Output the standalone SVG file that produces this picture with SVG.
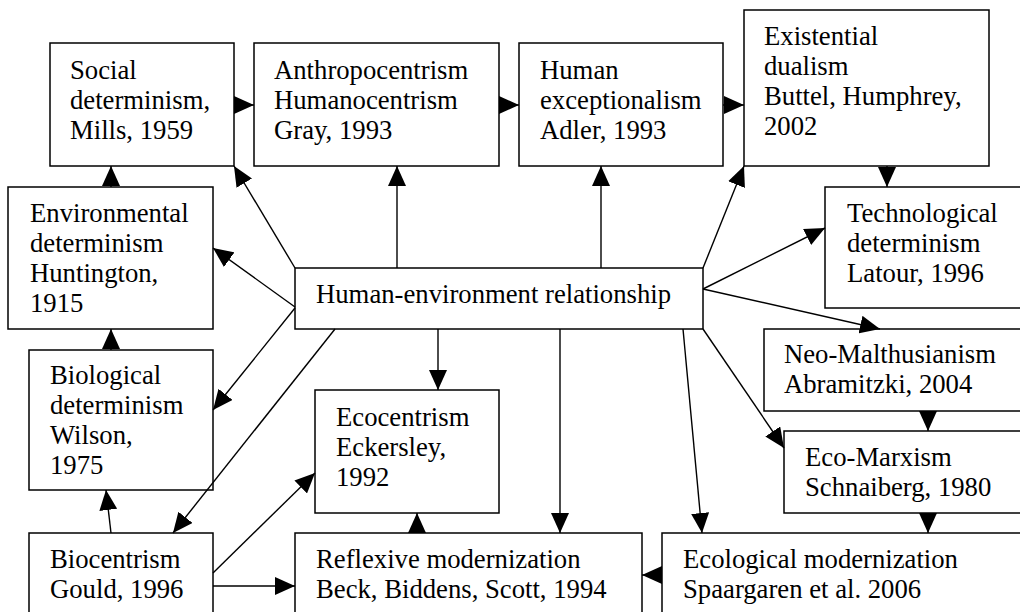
<svg xmlns="http://www.w3.org/2000/svg" width="1020" height="612" viewBox="0 0 1020 612">
<style>
.box{fill:#fff;stroke:#000;stroke-width:1.5}
.t{font-family:'Liberation Serif','DejaVu Serif',serif;font-size:26.7px;fill:#000}
.c line{stroke:#000;stroke-width:1.4;marker-end:url(#ah)}
</style>
<defs>
<marker id="ah" viewBox="0 0 20 18" refX="20" refY="9" markerWidth="20" markerHeight="18" markerUnits="userSpaceOnUse" orient="auto">
<path d="M0,0 L20,9 L0,18 z" fill="#000"/>
</marker>
</defs>
<rect width="1020" height="612" fill="#fff"/>
<g id="social"><rect class="box" x="50" y="43" width="184" height="123"/><text class="t" x="70" y="79">Social</text><text class="t" x="70" y="109">determinism,</text><text class="t" x="70" y="139">Mills, 1959</text></g>
<g id="anthro"><rect class="box" x="254" y="43" width="245" height="123"/><text class="t" x="274" y="79">Anthropocentrism</text><text class="t" x="274" y="109">Humanocentrism</text><text class="t" x="274" y="139">Gray, 1993</text></g>
<g id="human"><rect class="box" x="519" y="43" width="204" height="123"/><text class="t" x="540" y="79">Human</text><text class="t" x="540" y="109">exceptionalism</text><text class="t" x="540" y="139">Adler, 1993</text></g>
<g id="exist"><rect class="box" x="744" y="10" width="245" height="156"/><text class="t" x="764" y="45">Existential</text><text class="t" x="764" y="75">dualism</text><text class="t" x="764" y="105">Buttel, Humphrey,</text><text class="t" x="764" y="135">2002</text></g>
<g id="env"><rect class="box" x="8" y="187" width="205" height="142"/><text class="t" x="30" y="222">Environmental</text><text class="t" x="30" y="252">determinism</text><text class="t" x="30" y="282">Huntington,</text><text class="t" x="30" y="312">1915</text></g>
<g id="tech"><rect class="box" x="825" y="187" width="210" height="121"/><text class="t" x="847" y="222">Technological</text><text class="t" x="847" y="252">determinism</text><text class="t" x="847" y="282">Latour, 1996</text></g>
<g id="he"><rect class="box" x="295" y="268" width="408" height="61"/><text class="t" x="316" y="303">Human-environment relationship</text></g>
<g id="neo"><rect class="box" x="764" y="329" width="271" height="82"/><text class="t" x="784" y="363">Neo-Malthusianism</text><text class="t" x="784" y="393">Abramitzki, 2004</text></g>
<g id="bio"><rect class="box" x="29" y="350" width="184" height="140"/><text class="t" x="50" y="384">Biological</text><text class="t" x="50" y="414">determinism</text><text class="t" x="50" y="444">Wilson,</text><text class="t" x="50" y="474">1975</text></g>
<g id="ecocentrism"><rect class="box" x="315" y="390" width="184" height="123"/><text class="t" x="336" y="426">Ecocentrism</text><text class="t" x="336" y="456">Eckersley,</text><text class="t" x="336" y="486">1992</text></g>
<g id="ecomarx"><rect class="box" x="784" y="431" width="251" height="82"/><text class="t" x="805" y="466">Eco-Marxism</text><text class="t" x="805" y="496">Schnaiberg, 1980</text></g>
<g id="biocentrism"><rect class="box" x="29" y="533" width="184" height="90"/><text class="t" x="50" y="568">Biocentrism</text><text class="t" x="50" y="598">Gould, 1996</text></g>
<g id="reflexive"><rect class="box" x="295" y="533" width="347" height="90"/><text class="t" x="316" y="568">Reflexive modernization</text><text class="t" x="316" y="598">Beck, Biddens, Scott, 1994</text></g>
<g id="ecomod"><rect class="box" x="662" y="533" width="373" height="90"/><text class="t" x="683" y="568">Ecological modernization</text><text class="t" x="683" y="598">Spaargaren et al. 2006</text></g>
<g id="connectors" class="c">
<line x1="234" y1="105" x2="254" y2="105"/>
<line x1="499" y1="105" x2="519" y2="105"/>
<line x1="723" y1="105" x2="744" y2="105"/>
<line x1="111" y1="187" x2="111" y2="166"/>
<line x1="295" y1="268" x2="234" y2="166"/>
<line x1="397" y1="268" x2="397" y2="166"/>
<line x1="601" y1="268" x2="601" y2="166"/>
<line x1="703" y1="268" x2="744" y2="166"/>
<line x1="887" y1="166" x2="887" y2="187"/>
<line x1="295" y1="307" x2="213" y2="248"/>
<line x1="703" y1="289" x2="825" y2="228"/>
<line x1="703" y1="289" x2="880" y2="329"/>
<line x1="928" y1="411" x2="928" y2="431"/>
<line x1="703" y1="329" x2="784" y2="448"/>
<line x1="928" y1="513" x2="928" y2="533"/>
<line x1="662" y1="575" x2="642" y2="575"/>
<line x1="560" y1="329" x2="560" y2="533"/>
<line x1="683" y1="329" x2="702" y2="533"/>
<line x1="438" y1="329" x2="438" y2="390"/>
<line x1="417" y1="533" x2="417" y2="513"/>
<line x1="111" y1="350" x2="111" y2="329"/>
<line x1="295" y1="308" x2="213" y2="410"/>
<line x1="335" y1="329" x2="173" y2="533"/>
<line x1="111" y1="533" x2="106" y2="490"/>
<line x1="213" y1="573" x2="315" y2="473"/>
<line x1="213" y1="586" x2="295" y2="586"/>
</g>
</svg>
